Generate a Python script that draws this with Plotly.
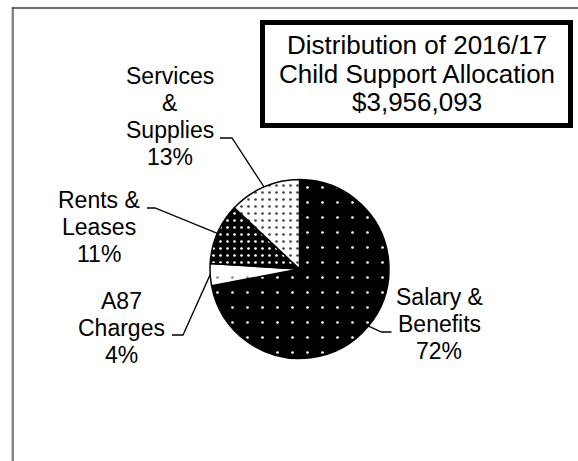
import math
import plotly.graph_objects as go

# ---- data ----
categories = ["Salary & Benefits", "A87 Charges", "Rents & Leases", "Services & Supplies"]
percents = [72, 4, 11, 13]
label_lines = [["Salary &", "Benefits", "72%"],
               ["A87", "Charges", "4%"],
               ["Rents &", "Leases", "11%"],
               ["Services", "&", "Supplies", "13%"]]
title_lines = ["Distribution of 2016/17", "Child Support Allocation", "$3,956,093"]

# ---- layout constants (pixels) ----
W, H = 578, 461
CX, CY, R = 299.5, 269.0, 89.5
FONT = "Liberation Sans, Arial, sans-serif"

def px(x):
    return x / W

def py(y):
    return 1 - y / H

# label placement: (center x, first line cap-center y, line spacing)
label_pos = [(439, 296.8, 27), (121.5, 300.8, 27), (99, 199.8, 27), (169.5, 75.8, 27)]
# leader elbows and ends (pixels)
leader_elbow = [(381.5, 332), (183, 335), (155, 208), (232, 138)]
leader_end = [(391.5, 332), (172, 335), (147, 208), (220, 138)]

bg = ["black", "white", "black", "white"]
fg = ["white", "#8a8a8a", "white", "#454545"]
psize = [15, 15, 7, 7]
psolid = [0.026, 0.026, 0.12, 0.12]

fig = go.Figure(go.Pie(
    labels=categories, values=percents, sort=False, direction="clockwise",
    rotation=0, textinfo="none", hoverinfo="label+percent",
    domain=dict(x=[px(CX - R), px(CX + R)], y=[py(CY + R), py(CY - R)]),
    marker=dict(colors=bg, line=dict(color="black", width=1.5),
                pattern=dict(shape=["."] * 4, fgcolor=fg, bgcolor=bg,
                             size=psize, solidity=psolid, fillmode="replace")),
))

annotations = []
shapes = []

total = sum(percents)
cum = 0
for i, v in enumerate(percents):
    mid = (cum + v / 2) / total * 2 * math.pi
    cum += v
    ex = CX + R * math.sin(mid)
    ey = CY - R * math.cos(mid)
    (bx, by), (qx, qy) = leader_elbow[i], leader_end[i]
    shapes.append(dict(type="path", xref="paper", yref="paper",
                       path=f"M {px(ex)} {py(ey)} L {px(bx)} {py(by)} L {px(qx)} {py(qy)}",
                       line=dict(color="black", width=1.3)))
    lx, ly, sp = label_pos[i]
    for j, t in enumerate(label_lines[i]):
        annotations.append(dict(text=t, x=px(lx), y=py(ly + j * sp), xref="paper", yref="paper",
                                xanchor="center", yanchor="middle", showarrow=False,
                                font=dict(family=FONT, size=23, color="black")))

# title box
shapes.append(dict(type="rect", xref="paper", yref="paper",
                   x0=px(262.5), x1=px(570.5), y0=py(125.5), y1=py(22.5),
                   line=dict(color="black", width=5), fillcolor="white", layer="below"))
for j, t in enumerate(title_lines):
    annotations.append(dict(text=t, x=px(416.5), y=py(45 + j * 28.5), xref="paper", yref="paper",
                            xanchor="center", yanchor="middle", showarrow=False,
                            font=dict(family=FONT, size=26, color="black")))

# outer frame (cropped)
shapes.append(dict(type="line", xref="paper", yref="paper", x0=px(12.8), x1=px(12.8),
                   y0=py(7.3), y1=py(H + 2), line=dict(color="#808080", width=2.3)))
shapes.append(dict(type="line", xref="paper", yref="paper", x0=px(12), x1=px(W + 2),
                   y0=py(8), y1=py(8), line=dict(color="#3c3c3c", width=1.4)))

fig.update_layout(width=W, height=H, margin=dict(l=0, r=0, t=0, b=0),
                  paper_bgcolor="white", plot_bgcolor="white", showlegend=False,
                  annotations=annotations, shapes=shapes)

fig.write_html("out.html")
